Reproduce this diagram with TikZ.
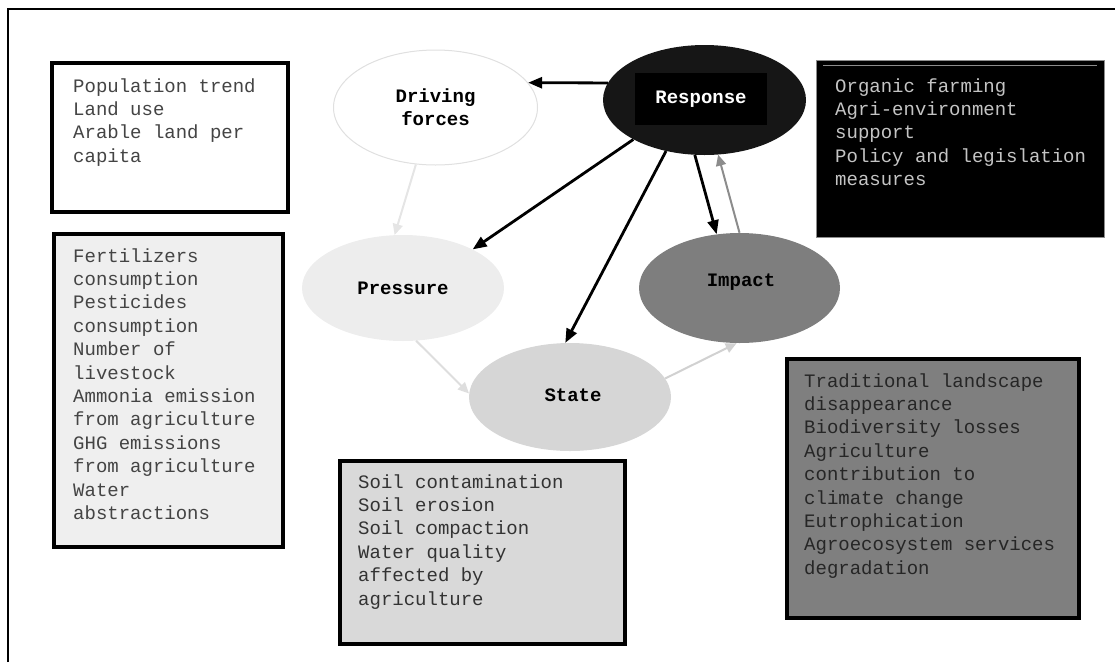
\documentclass[tikz,border=0pt]{standalone}
\usepackage{fontspec}
\setmonofont{Liberation Mono}
\usetikzlibrary{shapes.geometric,arrows.meta}
\definecolor{txtgray}{HTML}{444444}
\definecolor{boxtwo}{HTML}{EFEFEF}
\definecolor{boxthree}{HTML}{D9D9D9}
\definecolor{boxfour}{HTML}{7F7F7F}
\definecolor{boxfivetxt}{HTML}{C4C4C4}
\definecolor{pressfill}{HTML}{EDEDED}
\definecolor{statefill}{HTML}{D6D6D6}
\definecolor{impfill}{HTML}{7E7E7E}
\definecolor{respfill}{HTML}{161616}
\begin{document}
\begin{tikzpicture}[x=1pt,y=-1pt,
  every node/.style={font=\ttfamily\fontsize{19}{23.4}\selectfont},
  indbox/.style={draw=black, line width=4pt, inner sep=0pt, anchor=north west},
  boxtxt/.style={inner sep=0pt, anchor=base west},
  ell/.style={ellipse, inner sep=0pt, font=\ttfamily\bfseries\fontsize{19}{23.4}\selectfont, align=center},
  blackarr/.style={-{Triangle[length=14pt,width=11pt]}, line width=2.8pt, black},
  lightarr/.style={-{Triangle[length=11pt,width=10pt]}, line width=2pt}
]
\useasboundingbox (0,0) rectangle (1115,662);
% frame
\coordinate (fbl) at (8,662);
\coordinate (ftl) at (8,9);
\coordinate (ftr) at (1115,9);
\draw[line width=2pt] (fbl) -- (ftl) -- (ftr);

% indicator boxes
\node[indbox, fill=white, minimum width=236pt, minimum height=149pt] (b1) at (50,61) {};
\node[boxtxt, text=txtgray] (t1) at (73,92) {\parbox[t]{220pt}{Population trend\\Land use\\Arable land per\\capita}};

\node[indbox, fill=boxtwo, minimum width=229pt, minimum height=313pt] (b2) at (52,232) {};
\node[boxtxt, text=txtgray] (t2) at (73,262) {\parbox[t]{220pt}{Fertilizers\\consumption\\Pesticides\\consumption\\Number of\\livestock\\Ammonia emission\\from agriculture\\GHG emissions\\from agriculture\\Water\\abstractions}};

\node[indbox, fill=boxthree, minimum width=285pt, minimum height=183pt] (b3) at (338,459) {};
\node[boxtxt, text=black!80] (t3) at (358,488) {\parbox[t]{270pt}{Soil contamination\\Soil erosion\\Soil compaction\\Water quality\\affected by\\agriculture}};

\node[indbox, fill=boxfour, minimum width=292pt, minimum height=259pt] (b4) at (785,357) {};
\node[boxtxt, text=black!85] (t4) at (804,387) {\parbox[t]{280pt}{Traditional landscape\\disappearance\\Biodiversity losses\\Agriculture\\contribution to\\climate change\\Eutrophication\\Agroecosystem services\\degradation}};

\node[draw=black!45, line width=1pt, fill=black, inner sep=0pt, anchor=north west, minimum width=288pt, minimum height=177pt] (b5) at (816,60) {};
\coordinate (b5la) at (823,65);
\coordinate (b5lb) at (1097,65);
\draw[black!45, line width=0.8pt] (b5la) -- (b5lb);
\node[boxtxt, text=boxfivetxt] (t5) at (835,92) {\parbox[t]{270pt}{Organic farming\\Agri-environment\\support\\Policy and legislation\\measures}};

% DPSIR ellipses
\node[ell, draw=black!12, line width=1pt, fill=white, minimum width=204pt, minimum height=115pt] (df) at (435.5,107.5) {Driving\\forces};
\node[ell, fill=pressfill, minimum width=202pt, minimum height=106pt] (press) at (403,288) {Pressure};
\node[ell, fill=statefill, minimum width=202pt, minimum height=108pt] (state) at (570,397) {};
\node[ell, fill=impfill, minimum width=201pt, minimum height=110pt] (imp) at (739.5,288) {};
\node[ell, fill=respfill, minimum width=203pt, minimum height=110pt] (resp) at (704.5,100) {};
\node[fill=black, text=white, inner sep=0pt, minimum width=132pt, minimum height=52pt, font=\ttfamily\bfseries\fontsize{19}{23.4}\selectfont] (resplabel) at (701,99) {Response};
\node[font=\ttfamily\bfseries\fontsize{19}{23.4}\selectfont, inner sep=0pt] (implabel) at (741,282) {Impact};
\node[font=\ttfamily\bfseries\fontsize{19}{23.4}\selectfont, inner sep=0pt] (statelabel) at (573,395) {State};

% connectors
\draw[blackarr] (resp.170) -- (df.15);
\draw[blackarr] (resp.209) -- (press.29);
\draw[blackarr] (resp.233) -- (state.95);
\draw[blackarr] (resp.260.5) -- (imp.113.6);
\draw[lightarr, black!45] (imp.90) -- (resp.284);
\draw[lightarr, black!10] (df.251) -- (press.99);
\draw[lightarr, black!13] (press.284.8) -- (state.178);
\draw[lightarr, black!18] (state.11) -- (imp.267);
\end{tikzpicture}
\end{document}
